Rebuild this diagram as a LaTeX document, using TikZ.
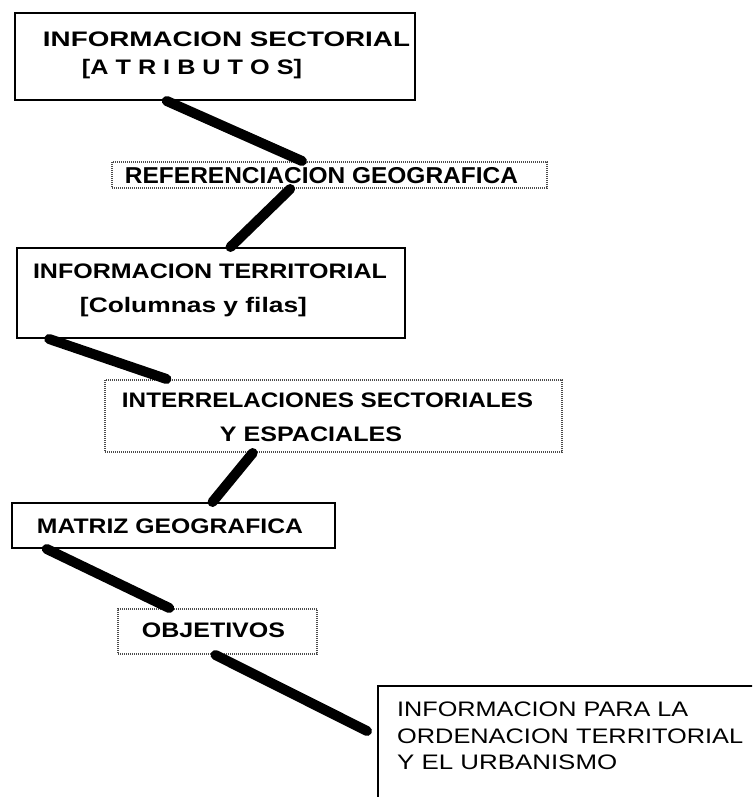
\documentclass[tikz,border=0pt]{standalone}
\usepackage{fontspec}
\setmainfont{Liberation Sans}
\usetikzlibrary{calc}
\newcommand\fitto[2]{\resizebox{#1}{\height}{#2}}
\begin{document}
\begin{tikzpicture}[x=1pt,y=-1pt,
  solidbox/.style={draw=black,line width=2pt,rectangle,inner sep=0pt},
  dotbox/.style={draw=black!70,line width=2pt,dash pattern=on 1pt off 1pt,rectangle,inner sep=0pt},
  lbl/.style={inner sep=0pt,anchor=base,font=\fontsize{21}{25}\selectfont\bfseries},
  lblreg/.style={inner sep=0pt,anchor=base west,font=\fontsize{21}{25}\selectfont},
  conn/.style={line width=10pt,line cap=round,draw=black}]
\useasboundingbox (0,0) rectangle (752,797);
\clip (0,0) rectangle (752,797);
% boxes
\node[solidbox,minimum width=400pt,minimum height=87pt] (b1) at (215,56.5) {};
\node[dotbox,minimum width=435pt,minimum height=26pt] (ref) at (329.5,175) {};
\node[solidbox,minimum width=388pt,minimum height=90pt] (b2) at (211,293) {};
\node[dotbox,minimum width=457pt,minimum height=72pt] (inter) at (333.5,416) {};
\node[solidbox,minimum width=323pt,minimum height=45pt] (mat) at (173.5,525.5) {};
\node[dotbox,minimum width=199pt,minimum height=45pt] (obj) at (217.5,631.5) {};
\node[solidbox,minimum width=402pt,minimum height=134pt] (fin) at (579,753) {};
% connectors
\draw[conn] ($(b1.south west)!0.38!(b1.south east)$) -- ($(ref.north west)!0.437!(ref.north east)$);
\draw[conn] ($(ref.south west)!0.41!(ref.south east)$) -- ($(b2.north west)!0.55!(b2.north east)$);
\draw[conn] ($(b2.south west)!0.085!(b2.south east)$) -- ($(inter.north west)!0.136!(inter.north east)$);
\draw[conn] ($(inter.south west)!0.324!(inter.south east)$) -- ($(mat.north west)!0.62!(mat.north east)$);
\draw[conn] ($(mat.south west)!0.11!(mat.south east)$) -- ($(obj.north west)!0.26!(obj.north east)$);
\coordinate (finend) at ($(fin.north west)+(-10,46)$);
\draw[conn] ($(obj.south west)!0.49!(obj.south east)$) -- (finend);
% texts
\node[lbl] (t1a) at (226.5,46.5) {\fitto{367pt}{INFORMACION SECTORIAL}};
\node[lbl] (t1b) at (192,74.5) {\fitto{220pt}{[A T R I B U T O S]}};
\node[lbl,font=\fontsize{23}{27}\selectfont\bfseries] (tref) at (321.5,183.5) {\fitto{393pt}{REFERENCIACION GEOGRAFICA}};
\node[lbl] (t2a) at (210,278.5) {\fitto{354pt}{INFORMACION TERRITORIAL}};
\node[lbl] (t2b) at (193.5,312.5) {\fitto{227pt}{[Columnas y filas]}};
\node[lbl] (t4a) at (327.5,407.5) {\fitto{411pt}{INTERRELACIONES SECTORIALES}};
\node[lbl] (t4b) at (311,441.5) {\fitto{182pt}{Y ESPACIALES}};
\node[lbl] (t5) at (170,533.5) {\fitto{266pt}{MATRIZ GEOGRAFICA}};
\node[lbl] (t6) at (213.5,637.5) {\fitto{143pt}{OBJETIVOS}};
\node[lblreg] (t7a) at (397,716.5) {\fitto{291pt}{INFORMACION PARA LA}};
\node[lblreg] (t7b) at (397,743.5) {\fitto{346pt}{ORDENACION TERRITORIAL}};
\node[lblreg] (t7c) at (397,769.5) {\fitto{220pt}{Y EL URBANISMO}};
\end{tikzpicture}
\end{document}
